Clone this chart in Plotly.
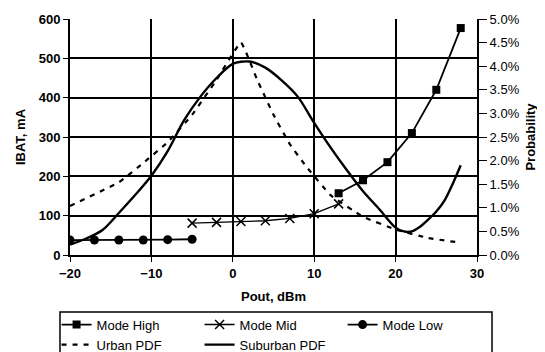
import plotly.graph_objects as go

# ---- data ----
high_x = [13, 16, 19, 22, 25, 28]
high_y = [157, 190, 236, 310, 420, 577]

mid_x = [-5, -2, 1, 4, 7, 10, 13]
mid_y = [81, 83, 85, 87, 93, 105, 130]

low_x = [-20, -17, -14, -11, -8, -5]
low_y = [38, 38, 38, 38, 39, 40]

urban_x = [-20, -14, -11, -8, -5, -2, 1, 3, 5, 7, 9, 12, 16, 20, 24, 28]
urban_p = [1.04, 1.54, 1.95, 2.39, 2.97, 3.71, 4.5, 3.71, 2.97, 2.35, 1.88, 1.27, 0.81, 0.54, 0.36, 0.26]

sub_x = [-20, -18, -16, -14, -12, -10, -8, -6, -4, -2, 0, 2, 4, 6, 8, 10, 12, 14, 16, 18, 20, 21, 22, 23, 24, 25, 26, 27, 28]
sub_p = [0.22, 0.35, 0.53, 0.89, 1.27, 1.68, 2.2, 2.85, 3.35, 3.75, 4.05, 4.1, 3.97, 3.7, 3.35, 2.8, 2.28, 1.8, 1.35, 0.97, 0.58, 0.5, 0.5, 0.6, 0.75, 0.92, 1.15, 1.5, 1.9]

x_ticks = [-20, -10, 0, 10, 20, 30]
y_ticks = [0, 100, 200, 300, 400, 500, 600]
p_ticks = [0, 0.5, 1.0, 1.5, 2.0, 2.5, 3.0, 3.5, 4.0, 4.5, 5.0]
p_labels = ["0.0%", "0.5%", "1.0%", "1.5%", "2.0%", "2.5%", "3.0%", "3.5%", "4.0%", "4.5%", "5.0%"]

FONT = "Arial, Liberation Sans, sans-serif"

fig = go.Figure()
fig.add_trace(go.Scatter(x=high_x, y=high_y, name="Mode High", mode="lines+markers",
                         line=dict(color="black", width=1.8),
                         marker=dict(symbol="square", size=8, color="black"), legend="legend"))
fig.add_trace(go.Scatter(x=mid_x, y=mid_y, name="Mode Mid", mode="lines+markers",
                         line=dict(color="black", width=1.4),
                         marker=dict(symbol="x-thin-open", size=9, color="black",
                                     line=dict(color="black", width=1.5)), legend="legend"))
fig.add_trace(go.Scatter(x=low_x, y=low_y, name="Mode Low", mode="lines+markers",
                         line=dict(color="black", width=1.8),
                         marker=dict(symbol="circle", size=9, color="black"), legend="legend"))
fig.add_trace(go.Scatter(x=urban_x, y=urban_p, name="Urban PDF", mode="lines", yaxis="y2",
                         line=dict(color="black", width=2.2, dash="5px,6px", shape="spline", smoothing=0.3),
                         legend="legend2"))
fig.add_trace(go.Scatter(x=sub_x, y=sub_p, name="Suburban PDF", mode="lines", yaxis="y2",
                         line=dict(color="black", width=2.4, shape="spline", smoothing=0.8),
                         legend="legend2"))

axis_common = dict(showline=True, linecolor="black", linewidth=2, mirror=False,
                   gridcolor="black", gridwidth=2, zeroline=False,
                   ticks="outside", tickcolor="black", ticklen=5, tickwidth=1)

fig.update_layout(
    width=537, height=344,
    margin=dict(l=62, r=68, t=11, b=97, autoexpand=False),
    paper_bgcolor="white", plot_bgcolor="white",
    font=dict(family=FONT, size=13, color="black"),
    showlegend=True,
    xaxis=dict(range=[-20, 30], tickvals=x_ticks, showgrid=True,
               tickfont=dict(family=FONT, size=13, weight="bold"),
               title=dict(text="<b>Pout, dBm</b>", font=dict(size=13), standoff=12),
               **axis_common),
    yaxis=dict(range=[0, 600], tickvals=y_ticks, showgrid=True,
               tickfont=dict(family=FONT, size=13, weight="bold"),
               title=dict(text="<b>IBAT, mA</b>", font=dict(size=13), standoff=10),
               **axis_common),
    yaxis2=dict(range=[0, 5], tickvals=p_ticks, ticktext=p_labels, overlaying="y", side="right",
                showgrid=False, showline=True, linecolor="black", linewidth=2, zeroline=False,
                ticks="outside", tickcolor="black", ticklen=8,
                tickfont=dict(family=FONT, size=13),
                title=dict(text="<b>Probability</b>", font=dict(size=13), standoff=7)),
    legend=dict(orientation="h", x=-0.033, y=-0.295, xanchor="left", yanchor="middle",
                entrywidth=98, font=dict(size=13), bgcolor="rgba(0,0,0,0)",
                itemwidth=30, tracegroupgap=0),
    legend2=dict(orientation="h", x=-0.033, y=-0.38, xanchor="left", yanchor="middle",
                 entrywidth=98, font=dict(size=13), bgcolor="rgba(0,0,0,0)",
                 itemwidth=30, tracegroupgap=0),
    shapes=[dict(type="rect", xref="paper", yref="paper", x0=-0.0246, x1=1.0369,
                 y0=-0.45, y1=-0.2415, line=dict(color="black", width=1.5))],
)

fig.write_html("out.html")
